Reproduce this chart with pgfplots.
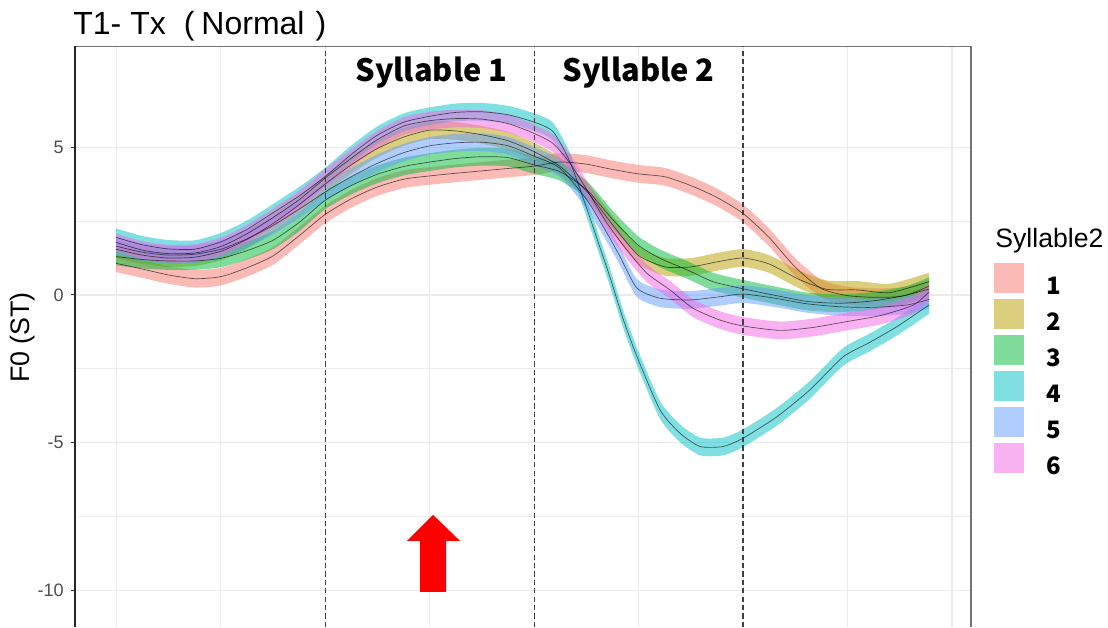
\documentclass[border=0pt]{standalone}
\usepackage{fontspec}
\setmainfont{Liberation Sans}
\newfontfamily\cjk{Noto Sans CJK JP}
\usepackage{pgfplots}
\pgfplotsset{compat=1.18}
\usepackage{pgfplotstable}
\usepgfplotslibrary{fillbetween}

\definecolor{c1}{HTML}{F8766D}
\definecolor{c2}{HTML}{B79F00}
\definecolor{c3}{HTML}{00BA38}
\definecolor{c4}{HTML}{00BFC4}
\definecolor{c5}{HTML}{619CFF}
\definecolor{c6}{HTML}{F564E3}
\definecolor{tickgray}{HTML}{4D4D4D}

% series 1
\pgfplotstableread{
x y
116 1.07
142 0.88
168 0.68
195 0.55
221 0.62
247 0.92
273 1.32
299 2.00
325 2.72
351 3.25
377 3.65
404 3.92
430 4.03
456 4.12
482 4.20
508 4.28
534 4.36
560 4.50
586 4.43
612 4.25
638 4.10
665 4.00
691 3.70
717 3.30
743 2.76
769 1.95
795 0.95
821 0.22
847 -0.02
873 -0.08
900 -0.05
929 0.20
}\sA
% series 2
\pgfplotstableread{
x y
116 1.55
142 1.35
168 1.25
195 1.28
221 1.48
247 1.88
273 2.42
299 3.05
325 3.75
351 4.40
377 4.95
404 5.35
430 5.58
456 5.55
482 5.42
508 5.22
534 4.85
560 4.35
587 3.50
612 2.40
638 1.35
665 0.95
691 0.95
717 1.12
743 1.25
769 1.05
800 0.51
827 0.19
857 0.17
890 0.08
929 0.45
}\sB
% series 3
\pgfplotstableread{
x y
116 1.30
142 1.20
168 1.15
195 1.15
221 1.24
247 1.50
273 1.85
299 2.45
325 3.20
351 3.70
377 4.08
404 4.35
430 4.50
456 4.62
482 4.68
508 4.65
534 4.40
560 4.17
587 3.55
613 2.54
638 1.69
660 1.24
687 0.85
713 0.45
740 0.23
773 0.00
807 -0.22
840 -0.28
873 -0.20
907 0.00
929 0.30
}\sC
% series 4
\pgfplotstableread{
x y
116 1.95
142 1.70
168 1.56
195 1.55
221 1.80
247 2.22
273 2.78
299 3.35
325 4.00
351 4.75
377 5.40
404 5.85
430 6.05
456 6.18
482 6.20
508 6.10
534 5.85
553 5.53
570 4.50
587 2.90
600 1.60
610 0.60
623 -0.80
637 -2.09
660 -3.89
680 -4.68
700 -5.13
723 -5.13
743 -4.85
777 -4.12
810 -3.21
843 -2.10
870 -1.60
897 -1.07
929 -0.34
}\sD
% series 5
\pgfplotstableread{
x y
116 1.65
142 1.45
168 1.35
195 1.38
221 1.55
247 1.90
273 2.35
299 2.90
325 3.48
351 4.00
377 4.45
404 4.82
430 5.05
456 5.15
482 5.17
508 5.05
534 4.70
560 4.29
587 3.21
607 2.09
620 1.30
637 0.23
660 -0.11
690 -0.17
720 -0.06
743 0.03
773 -0.10
807 -0.30
840 -0.40
873 -0.42
907 -0.34
929 -0.15
}\sE
% series 6
\pgfplotstableread{
x y
116 1.78
142 1.52
168 1.40
195 1.42
221 1.64
247 2.07
273 2.62
299 3.22
325 3.95
351 4.62
377 5.25
404 5.72
430 5.90
456 5.97
482 5.95
508 5.80
534 5.47
553 5.13
570 4.46
587 3.55
607 2.43
627 1.52
647 0.73
670 0.17
693 -0.45
720 -0.85
743 -1.05
780 -1.20
813 -1.10
847 -0.90
880 -0.70
913 -0.35
929 0.10
}\sF

\newcommand{\band}[2]{%
  \addplot[draw=none, forget plot, name path=U#2, smooth, tension=0.4] table[x=x, y expr=\thisrow{y}+0.3] {#1};
  \addplot[draw=none, forget plot, name path=L#2, smooth, tension=0.4] table[x=x, y expr=\thisrow{y}-0.3] {#1};
  \addplot[fill=#2, fill opacity=0.5, draw=none, forget plot] fill between[of=U#2 and L#2];
}
\newcommand{\centreline}[1]{%
  \addplot[black, opacity=0.6, line width=0.35pt, smooth, tension=0.4, forget plot] table[x=x, y=y] {#1};
}

\begin{document}
\begin{tikzpicture}
\begin{axis}[
  width=448pt, height=290.25pt, scale only axis,
  xmin=75, xmax=971, ymin=-11.24, ymax=8.41,
  axis x line*=top,
  axis line style={black!55, line width=0.7pt},
  clip mode=individual,
  xtick={116.4,220.85,325.3,429.75,534.2,638.65,743.1,847.55,952.0},
  xticklabels={},
  xtick style={draw=none},
  ytick={-10,-5,0,5},
  ytick pos=left,
  minor y tick num=1,
  minor tick length=0pt,
  major tick length=2.2pt,
  tick align=outside,
  ytick style={black!80, line width=0.5pt},
  xmajorgrids, ymajorgrids, yminorgrids,
  major grid style={gray!16, line width=0.6pt},
  minor grid style={gray!14, line width=0.35pt},
  /pgf/number format/assume math mode=true,
  yticklabel style={font=\fontsize{9}{11}\selectfont, text=tickgray},
  legend image code/.code={\fill[#1, draw=none] (0pt,-3.1pt) rectangle (15pt,11.9pt); \path[draw=none, fill=none] (0pt,0pt) -- (26pt,0pt);},
  legend style={at={(axis description cs:1.0257,0.627)}, anchor=north west, draw=none, fill=none,
    inner sep=0pt, outer sep=0pt, row sep=1pt,
    font=\cjk\bfseries\fontsize{12}{14}\selectfont,
    nodes={inner sep=0pt}},
  legend cell align=left,
]
\band{\sA}{c1}
\band{\sB}{c2}
\band{\sC}{c3}
\band{\sD}{c4}
\band{\sE}{c5}
\band{\sF}{c6}
\centreline{\sA}
\centreline{\sB}
\centreline{\sC}
\centreline{\sD}
\centreline{\sE}
\centreline{\sF}

\addlegendimage{fill=c1, fill opacity=0.5}
\addlegendentry{1}
\addlegendimage{fill=c2, fill opacity=0.5}
\addlegendentry{2}
\addlegendimage{fill=c3, fill opacity=0.5}
\addlegendentry{3}
\addlegendimage{fill=c4, fill opacity=0.5}
\addlegendentry{4}
\addlegendimage{fill=c5, fill opacity=0.5}
\addlegendentry{5}
\addlegendimage{fill=c6, fill opacity=0.5}
\addlegendentry{6}

\draw[black!75, line width=0.7pt, dash pattern=on 2.6pt off 1.6pt] (axis cs:325.3,-11.24) -- (axis cs:325.3,8.41);
\draw[black!75, line width=0.7pt, dash pattern=on 2.6pt off 1.6pt] (axis cs:534.2,-11.24) -- (axis cs:534.2,8.41);
\draw[black!75, line width=0.7pt, dash pattern=on 2.6pt off 1.6pt] (axis cs:743.1,-11.24) -- (axis cs:743.1,8.41);

\fill[red] (axis cs:420,-10.05) -- (axis cs:446,-10.05) -- (axis cs:446,-8.325) -- (axis cs:460,-8.325) -- (axis cs:433,-7.445) -- (axis cs:407,-8.325) -- (axis cs:420,-8.325) -- cycle;

\node[anchor=base, inner sep=0pt, font=\cjk\bfseries\fontsize{15.4}{18}\selectfont] at (axis cs:431.5,7.21) {Syllable 1};
\node[anchor=base, inner sep=0pt, font=\cjk\bfseries\fontsize{15.4}{18}\selectfont] at (axis cs:638.65,7.21) {Syllable 2};

\draw[black!85, line width=0.8pt] (axis description cs:0,0) -- (axis description cs:0,1);

\node[anchor=base west, inner sep=0pt, font=\fontsize{16}{19}\selectfont] at ([xshift=-1pt, yshift=5.75pt]axis description cs:0,1) {T1- Tx\hspace{9pt}(\hspace{3.5pt}Normal\hspace{5.5pt})};
\node[anchor=base west, inner sep=0pt, font=\fontsize{13.3}{16}\selectfont] at (axis description cs:1.0268,0.6546) {Syllable2};
\node[rotate=90, anchor=center, inner sep=0pt, font=\fontsize{13.4}{16}\selectfont] at ([xshift=-26pt]axis description cs:0,0.4987) {F0 (ST)};
\end{axis}
\pgfresetboundingbox
\path[use as bounding box] (-37.5pt,0pt) rectangle (516.5pt,313.5pt);
\end{tikzpicture}
\end{document}
